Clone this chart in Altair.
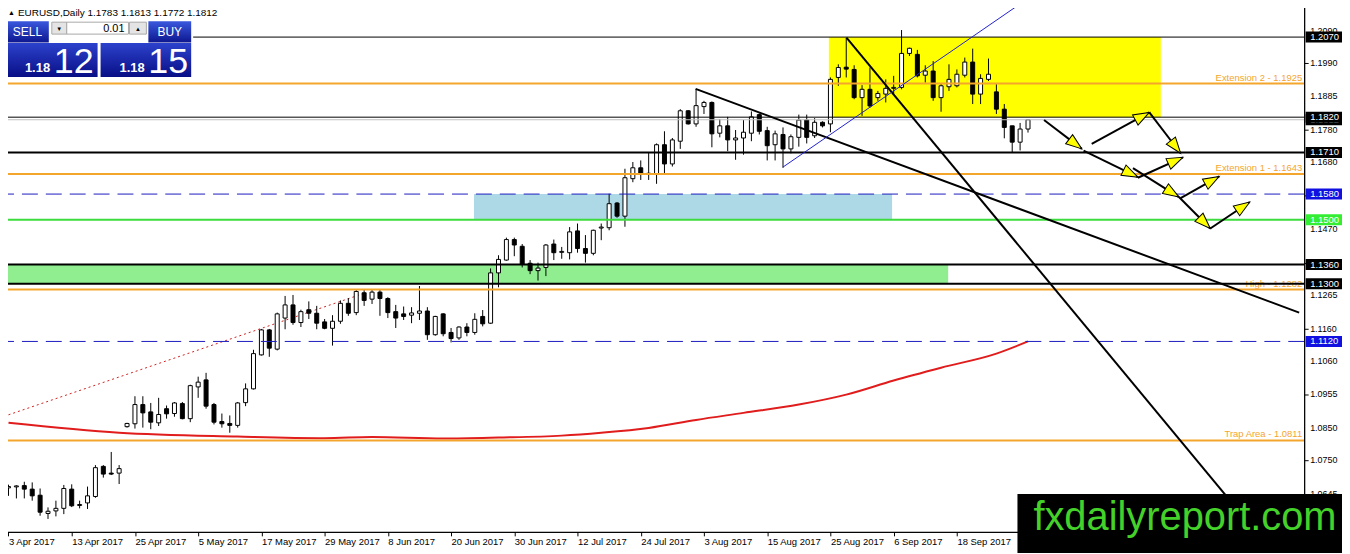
import math
import altair as alt
import pandas as pd

FONT = "Liberation Sans"

# ---------------- data ----------------
opens = [1.0663, 1.0666, 1.0670, 1.0659, 1.0640, 1.0583, 1.0591, 1.0599, 1.0659, 1.0608,
         1.0616, 1.0636, 1.0730, 1.0709, 1.0709, 1.0854, 1.0863, 1.0923, 1.0900, 1.0866,
         1.0910, 1.0895, 1.0926, 1.0879, 1.0978, 1.1000, 1.0923, 1.0870, 1.0864, 1.0858,
         1.0929, 1.0972, 1.1078, 1.1156, 1.1096, 1.1193, 1.1234, 1.1179, 1.1219, 1.1208,
         1.1181, 1.1161, 1.1183, 1.1239, 1.1210, 1.1272, 1.1252, 1.1274, 1.1254, 1.1213,
         1.1206, 1.1202, 1.1208, 1.1215, 1.1141, 1.1206, 1.1148, 1.1131, 1.1165, 1.1148,
         1.1198, 1.1177, 1.1334, 1.1374, 1.1438, 1.1417, 1.1364, 1.1341, 1.1351, 1.1424,
         1.1398, 1.1397, 1.1465, 1.1410, 1.1395, 1.1474, 1.1475, 1.1552, 1.1511, 1.1628,
         1.1662, 1.1641, 1.1641, 1.1734, 1.1674, 1.1745, 1.1840, 1.1799, 1.1853, 1.1866,
         1.1770, 1.1793, 1.1749, 1.1755, 1.1770, 1.1828, 1.1778, 1.1734, 1.1766, 1.1721,
         1.1757, 1.1811, 1.1762, 1.1804, 1.1799, 1.1944, 1.1976, 1.1969, 1.1881, 1.1907,
         1.1881, 1.1892, 1.1910, 1.1913, 1.2019, 1.2016, 1.1951, 1.1964, 1.1881, 1.1915,
         1.1918, 1.1951, 1.1992, 1.1892, 1.1938, 1.1899, 1.1845, 1.1793, 1.1742, 1.1783]
highs = [1.0673, 1.0671, 1.0682, 1.0680, 1.0661, 1.0602, 1.0623, 1.0672, 1.0674, 1.0623,
         1.0667, 1.0734, 1.0734, 1.0775, 1.0734, 1.0866, 1.0949, 1.0949, 1.0928, 1.0944,
         1.0920, 1.0931, 1.0931, 1.0985, 1.1010, 1.1022, 1.0928, 1.0895, 1.0889, 1.0931,
         1.0989, 1.1094, 1.1159, 1.1159, 1.1210, 1.1262, 1.1265, 1.1219, 1.1245, 1.1231,
         1.1190, 1.1202, 1.1248, 1.1255, 1.1281, 1.1281, 1.1281, 1.1281, 1.1258, 1.1234,
         1.1229, 1.1227, 1.1293, 1.1227, 1.1200, 1.1208, 1.1162, 1.1167, 1.1177, 1.1208,
         1.1218, 1.1348, 1.1389, 1.1444, 1.1444, 1.1424, 1.1374, 1.1366, 1.1424, 1.1438,
         1.1415, 1.1477, 1.1488, 1.1452, 1.1469, 1.1488, 1.1581, 1.1555, 1.1659, 1.1680,
         1.1685, 1.1711, 1.1738, 1.1776, 1.1755, 1.1845, 1.1842, 1.1907, 1.1871, 1.1869,
         1.1814, 1.1821, 1.1780, 1.1811, 1.1838, 1.1832, 1.1790, 1.1778, 1.1788, 1.1766,
         1.1828, 1.1828, 1.1817, 1.1807, 1.1944, 1.1985, 1.2068, 1.1982, 1.1920, 1.1975,
         1.1902, 1.1938, 1.1949, 1.2092, 1.2037, 1.2030, 1.1982, 1.1995, 1.1926, 1.1985,
         1.1969, 1.2006, 1.2034, 1.1954, 1.2003, 1.1923, 1.1861, 1.1793, 1.1802, 1.1813]
lows = [1.0638, 1.0630, 1.0630, 1.0623, 1.0576, 1.0566, 1.0574, 1.0581, 1.0603, 1.0599,
        1.0597, 1.0632, 1.0695, 1.0703, 1.0675, 1.0851, 1.0848, 1.0851, 1.0846, 1.0856,
        1.0879, 1.0885, 1.0877, 1.0868, 1.0944, 1.0910, 1.0861, 1.0851, 1.0835, 1.0851,
        1.0918, 1.0970, 1.1076, 1.1072, 1.1092, 1.1158, 1.1172, 1.1165, 1.1190, 1.1158,
        1.1158, 1.1107, 1.1175, 1.1200, 1.1202, 1.1231, 1.1237, 1.1200, 1.1193, 1.1162,
        1.1187, 1.1177, 1.1187, 1.1125, 1.1138, 1.1136, 1.1117, 1.1125, 1.1136, 1.1141,
        1.1167, 1.1175, 1.1289, 1.1372, 1.1386, 1.1351, 1.1330, 1.1310, 1.1324, 1.1374,
        1.1378, 1.1376, 1.1397, 1.1366, 1.1389, 1.1436, 1.1467, 1.1506, 1.1478, 1.1617,
        1.1624, 1.1624, 1.1612, 1.1645, 1.1666, 1.1721, 1.1797, 1.1790, 1.1830, 1.1726,
        1.1757, 1.1714, 1.1687, 1.1703, 1.1745, 1.1766, 1.1685, 1.1685, 1.1662, 1.1707,
        1.1728, 1.1738, 1.1755, 1.1788, 1.1773, 1.1918, 1.1944, 1.1876, 1.1824, 1.1850,
        1.1871, 1.1866, 1.1892, 1.1907, 1.2011, 1.1944, 1.1928, 1.1871, 1.1837, 1.1902,
        1.1913, 1.1944, 1.1861, 1.1861, 1.1933, 1.1830, 1.1754, 1.1711, 1.1716, 1.1772]
closes = [1.0667, 1.0669, 1.0659, 1.0638, 1.0587, 1.0590, 1.0599, 1.0661, 1.0607, 1.0611,
          1.0638, 1.0726, 1.0706, 1.0706, 1.0723, 1.0864, 1.0923, 1.0897, 1.0868, 1.0892,
          1.0894, 1.0928, 1.0879, 1.0982, 1.0993, 1.0918, 1.0868, 1.0863, 1.0858, 1.0928,
          1.0972, 1.1082, 1.1156, 1.1099, 1.1206, 1.1234, 1.1179, 1.1213, 1.1208, 1.1177,
          1.1161, 1.1183, 1.1239, 1.1208, 1.1276, 1.1248, 1.1274, 1.1254, 1.1210, 1.1193,
          1.1198, 1.1209, 1.1215, 1.1141, 1.1198, 1.1144, 1.1129, 1.1165, 1.1148, 1.1189,
          1.1175, 1.1334, 1.1376, 1.1438, 1.1421, 1.1361, 1.1341, 1.1349, 1.1421, 1.1397,
          1.1401, 1.1462, 1.1410, 1.1395, 1.1467, 1.1477, 1.1550, 1.1511, 1.1631, 1.1662,
          1.1645, 1.1645, 1.1734, 1.1674, 1.1749, 1.1840, 1.1799, 1.1856, 1.1866, 1.1768,
          1.1793, 1.1749, 1.1755, 1.1773, 1.1821, 1.1776, 1.1731, 1.1768, 1.1721, 1.1759,
          1.1811, 1.1757, 1.1804, 1.1793, 1.1938, 1.1975, 1.1970, 1.1881, 1.1907, 1.1855,
          1.1894, 1.1910, 1.1913, 1.2019, 1.2035, 1.1949, 1.1964, 1.1881, 1.1918, 1.1938,
          1.1954, 1.1992, 1.1892, 1.1941, 1.1954, 1.1845, 1.1788, 1.1742, 1.1783, 1.1812]

date_labels = ["3 Apr 2017", "13 Apr 2017", "25 Apr 2017", "5 May 2017", "17 May 2017",
               "29 May 2017", "8 Jun 2017", "20 Jun 2017", "30 Jun 2017", "12 Jul 2017",
               "24 Jul 2017", "3 Aug 2017", "15 Aug 2017", "25 Aug 2017", "6 Sep 2017",
               "18 Sep 2017", "28 Sep 2017"]
price_ticks = [1.2090, 1.1990, 1.1885, 1.1780, 1.1680, 1.1575, 1.1470, 1.1365, 1.1265,
               1.1160, 1.1060, 1.0955, 1.0850, 1.0750, 1.0645, 1.0540]

# moving average (red) read at sample bars
ma_bars = [0, 14, 29, 40, 46, 55, 62, 70, 75, 81, 87, 93, 100, 106, 112, 118, 125, 129]
ma_vals = [1.0866, 1.0835, 1.0823, 1.0818, 1.0822, 1.0817, 1.0820, 1.0826, 1.0835, 1.0850,
           1.0875, 1.0897, 1.0923, 1.0954, 1.0998, 1.1038, 1.1082, 1.1120]

# dotted red trend line
dot_bars = [0, 45.2]
dot_vals = [1.0891, 1.1272]

# horizontal levels
black_levels = [1.2070, 1.1820, 1.1710, 1.1360, 1.1300]
black_widths = [1, 1, 2, 2, 2]
bid_level = 1.1812
orange_levels = [1.1925, 1.1643, 1.1282, 1.0811]
orange_names = ["Extension 2 - 1.1925", "Extension 1 - 1.1643", "High - 1.1282", "Trap Area - 1.0811"]
blue_levels = [1.1580, 1.1120]
green_levels = [1.1500]

# price boxes on the right scale
box_prices = [1.2070, 1.1820, 1.1710, 1.1580, 1.1500, 1.1360, 1.1300, 1.1120]
box_kinds = ["k", "k", "k", "b", "g", "k", "k", "b"]

# zones (bar from, bar to, price low, price high)
zone_b1 = [103.8, 58.9, -0.0625]
zone_b2 = [145.8, 111.8, 118.9]
zone_lo = [1.1820, 1.1500, 1.1300]
zone_hi = [1.2070, 1.1580, 1.1360]
zone_kind = ["yellow", "blue", "green"]

# trend lines (bar1, price1, bar2, price2)
tl_b1 = [86.94, 106.03, 97.98]
tl_p1 = [1.19084, 1.2068, 1.16639]
tl_b2 = [163.31, 157.85, 127.94]
tl_p2 = [1.12101, 1.05256, 1.21725]
tl_kind = ["black", "black", "blue"]

# projection arrows (bar1, price1, bar2, price2)
ar_b1 = [131.03, 136.03, 142.28, 148.10, 152.06, 148.31, 142.90, 137.06, 144.35]
ar_p1 = [1.18111, 1.17157, 1.16607, 1.15706, 1.14724, 1.15675, 1.16309, 1.17366, 1.18348]
ar_b2 = [135.81, 142.90, 148.10, 152.06, 157.06, 153.19, 148.60, 144.35, 148.31]
ar_p2 = [1.17210, 1.16328, 1.15706, 1.14724, 1.15551, 1.16350, 1.16948, 1.18348, 1.17074]

# ---------------- styling / scales ----------------
W, H = 1307, 530
XD = [-0.0625, 163.3125]
YD = [1.05256, 1.21725]
PXB = W / (XD[1] - XD[0])
PXP = H / (YD[1] - YD[0])
xs = alt.Scale(domain=XD, nice=False, zero=False)
ys = alt.Scale(domain=YD, nice=False, zero=False)
ORANGE = "#f4a52c"
BLUE = "#1c1cc0"
GREEN = "#3ddc3d"
OFF = 3  # page offset of plot origin


def X(f):
    return alt.X(f, scale=xs)


def Y(f):
    return alt.Y(f, scale=ys)


n = len(opens)
cdf = pd.DataFrame({"i": list(range(n)), "o": opens, "h": highs, "l": lows, "c": closes})
cdf["lo"] = cdf[["o", "c"]].min(axis=1)
cdf["hi"] = cdf[["o", "c"]].max(axis=1)
cdf["fill"] = ["white" if c >= o else "black" for o, c in zip(opens, closes)]

labels_js = "[" + ",".join("'%s'" % d for d in date_labels) + "][round(datum.value/8)]"

x_axis = alt.Axis(orient="bottom", values=list(range(0, 8 * len(date_labels), 8)), labelExpr=labels_js,
                  grid=False, tickSize=4, tickColor="black", domainColor="black", labelColor="black",
                  labelFont=FONT, labelFontSize=9.5, labelAlign="left", labelBaseline="top",
                  labelPadding=1, labelFlush=False, labelOverlap=False, title=None)
y_axis = alt.Axis(orient="right", values=price_ticks, grid=False, tickSize=4, labels=False,
                  tickColor="black", domainColor="black", title=None)

one = pd.DataFrame({"k": [0]})


def prect(x1, y1, x2, y2, fill, stroke=None):
    kw = {"fill": fill}
    if stroke:
        kw.update(stroke=stroke, strokeWidth=1)
    return alt.Chart(one).mark_rect(**kw).encode(
        x=alt.value(x1 - OFF), x2=alt.value(x2 - OFF), y=alt.value(y1 - OFF), y2=alt.value(y2 - OFF))


def ptext(x, y, s, size, color="white", align="left", baseline="middle", weight="normal"):
    return alt.Chart(one).mark_text(text=s, font=FONT, fontSize=size, color=color, align=align,
                                    baseline=baseline, fontWeight=weight).encode(
        x=alt.value(x - OFF), y=alt.value(y - OFF))


layers = []

# zones (carry the axes)
zdf = pd.DataFrame({"b1": zone_b1, "b2": zone_b2, "lo": zone_lo, "hi": zone_hi, "k": zone_kind})
zdf["col"] = zdf["k"].map({"yellow": "#ffff00", "blue": "#add8e6", "green": "#90ee90"})
layers.append(alt.Chart(zdf).mark_rect(clip=True).encode(
    x=alt.X("b1:Q", scale=xs, axis=x_axis), x2="b2:Q",
    y=alt.Y("lo:Q", scale=ys, axis=y_axis), y2="hi:Q",
    fill=alt.Fill("col:N", scale=None)))

# right-scale tick labels (as text so none is dropped)
tdf_lab = pd.DataFrame({"p": price_ticks, "lab": [f"{p:.4f}" for p in price_ticks]})
layers.append(alt.Chart(tdf_lab).mark_text(align="left", baseline="middle", color="black", font=FONT,
                                           fontSize=9).encode(
    x=alt.value(1313), y=Y("p:Q"), text="lab:N"))

# moving average and dotted line
madf = pd.DataFrame({"i": ma_bars, "p": ma_vals})
layers.append(alt.Chart(madf).mark_line(color="#e01c1c", strokeWidth=2, clip=True,
                                        interpolate="monotone").encode(x=X("i:Q"), y=Y("p:Q")))
ddf = pd.DataFrame({"i": dot_bars, "p": dot_vals})
layers.append(alt.Chart(ddf).mark_line(color="#d02020", strokeWidth=1, strokeDash=[2, 3], clip=True).encode(
    x=X("i:Q"), y=Y("p:Q")))

# candles
layers.append(alt.Chart(cdf).mark_rule(color="black", strokeWidth=1).encode(
    x=X("i:Q"), y=Y("l:Q"), y2="h:Q"))
layers.append(alt.Chart(cdf).mark_bar(width=4, stroke="black", strokeWidth=1).encode(
    x=X("i:Q"), y=Y("lo:Q"), y2="hi:Q", fill=alt.Fill("fill:N", scale=None)))

# orange labels
odf = pd.DataFrame({"p": orange_levels, "name": orange_names})
layers.append(alt.Chart(odf).mark_text(align="right", baseline="bottom", dy=-1, color=ORANGE,
                                       font=FONT, fontSize=9.5).encode(
    x=alt.value(1305), y=Y("p:Q"), text="name:N"))

# horizontal lines
hdf = pd.DataFrame({
    "p": [bid_level] + orange_levels + green_levels + black_levels,
    "c": ["#c0c0c0"] + [ORANGE] * len(orange_levels) + [GREEN] * len(green_levels) + ["black"] * len(black_levels),
    "w": [1] + [2] * len(orange_levels) + [2] * len(green_levels) + black_widths,
})
layers.append(alt.Chart(hdf).mark_rule(clip=True).encode(
    y=Y("p:Q"), color=alt.Color("c:N", scale=None),
    strokeWidth=alt.StrokeWidth("w:Q", scale=None)))
bdf = pd.DataFrame({"p": blue_levels})
layers.append(alt.Chart(bdf).mark_rule(color=BLUE, strokeWidth=1, strokeDash=[16, 8], clip=True).encode(
    y=Y("p:Q")))

# trend lines
tdf = pd.DataFrame({"b1": tl_b1, "p1": tl_p1, "b2": tl_b2, "p2": tl_p2, "k": tl_kind})
tdf["col"] = tdf["k"].map({"black": "black", "blue": "#2020d0"})
tdf["w"] = tdf["k"].map({"black": 2, "blue": 1})
layers.append(alt.Chart(tdf).mark_rule(clip=True).encode(
    x=X("b1:Q"), x2="b2:Q", y=Y("p1:Q"), y2="p2:Q",
    color=alt.Color("col:N", scale=None), strokeWidth=alt.StrokeWidth("w:Q", scale=None)))

# arrows
adf = pd.DataFrame({"b1": ar_b1, "p1": ar_p1, "b2": ar_b2, "p2": ar_p2})
adf["ang"] = [
    (math.degrees(math.atan2((b2 - b1) * PXB, (p2 - p1) * PXP)) + 360) % 360
    for b1, p1, b2, p2 in zip(ar_b1, ar_p1, ar_b2, ar_p2)]
layers.append(alt.Chart(adf).mark_rule(color="black", strokeWidth=2, clip=True).encode(
    x=X("b1:Q"), x2="b2:Q", y=Y("p1:Q"), y2="p2:Q"))
layers.append(alt.Chart(adf).mark_point(shape="M0,0L0.65,1.8L-0.65,1.8Z", size=317, filled=True,
                                        fill="#ffff00", stroke="black", strokeWidth=1, opacity=1,
                                        fillOpacity=1, strokeOpacity=1).encode(
    x=X("b2:Q"), y=Y("p2:Q"), angle=alt.Angle("ang:Q", scale=None)))

# right scale price boxes: bid box first (partly hidden), then level boxes
half = 5.5 / PXP
bid = pd.DataFrame({"p": [bid_level], "col": ["black"]})
bid["lo"] = bid["p"] - half
bid["hi"] = bid["p"] + half
bid["lab"] = [f"{bid_level:.4f}"]
rb = pd.DataFrame({"p": box_prices, "k": box_kinds})
rb["lo"] = rb["p"] - half
rb["hi"] = rb["p"] + half
rb["col"] = rb["k"].map({"k": "black", "b": "#1010e0", "g": "#33ee33"})
rb["lab"] = [f"{p:.4f}" for p in box_prices]
for d in (bid, rb):
    layers.append(alt.Chart(d).mark_rect().encode(
        x=alt.value(1308.5), x2=alt.value(1345), y=Y("lo:Q"), y2="hi:Q",
        fill=alt.Fill("col:N", scale=None)))
    layers.append(alt.Chart(d).mark_text(align="left", baseline="middle", color="white", font=FONT,
                                         fontSize=9.5).encode(
        x=alt.value(1313), y=Y("p:Q"), text="lab:N"))

# header + one-click trading panel
grad = {"gradient": "linear", "x1": 0, "y1": 0, "x2": 0, "y2": 1,
        "stops": [{"offset": 0, "color": "#3a58de"}, {"offset": 1, "color": "#0d178f"}]}
grad2 = {"gradient": "linear", "x1": 0, "y1": 0, "x2": 0, "y2": 1,
         "stops": [{"offset": 0, "color": "#2c42cc"}, {"offset": 1, "color": "#080f86"}]}
layers += [
    ptext(11.5, 12, "▲", 7, color="black", align="center"),
    ptext(18, 12, "EURUSD,Daily  1.1783 1.1813 1.1772 1.1812", 10, color="black"),
    prect(5, 18, 194, 78, "white"),
    prect(6, 20, 49, 41.5, grad),
    prect(52, 21, 67, 33, "#e4e4e4", "#a8a8a8"),
    prect(67, 21, 129, 33, "white", "#a8a8a8"),
    prect(130, 21, 147, 33, "#e4e4e4", "#a8a8a8"),
    prect(149, 20, 192, 41.5, grad),
    prect(6, 42, 98, 76, grad2),
    prect(101, 42, 192, 76, grad2),
    ptext(27.5, 31, "SELL", 12, align="center"),
    ptext(59.5, 27.5, "▼", 6, color="black", align="center"),
    ptext(125, 27.5, "0.01", 11, color="black", align="right"),
    ptext(138.5, 27.5, "▲", 6, color="black", align="center"),
    ptext(170.5, 31, "BUY", 12, align="center"),
    ptext(25, 71.5, "1.18", 13, baseline="alphabetic", weight="bold"),
    ptext(54, 72, "12", 36, baseline="alphabetic"),
    ptext(120, 71.5, "1.18", 13, baseline="alphabetic", weight="bold"),
    ptext(149, 72, "15", 36, baseline="alphabetic"),
]

# watermark
layers += [
    prect(1022, 495, 1351, 555, "black"),
    ptext(1038, 531.5, "fxdailyreport.com", 40, color="#44d12a", baseline="alphabetic"),
]

chart = alt.layer(*layers).properties(
    width=W, height=H,
    padding={"left": -5, "top": -5, "right": 38, "bottom": 20},
    autosize=alt.AutoSizeParams(type="none"),
    background="white",
).configure_view(stroke="black", strokeWidth=1)

chart.save("out.html", embed_options={"renderer": "svg", "actions": False})
